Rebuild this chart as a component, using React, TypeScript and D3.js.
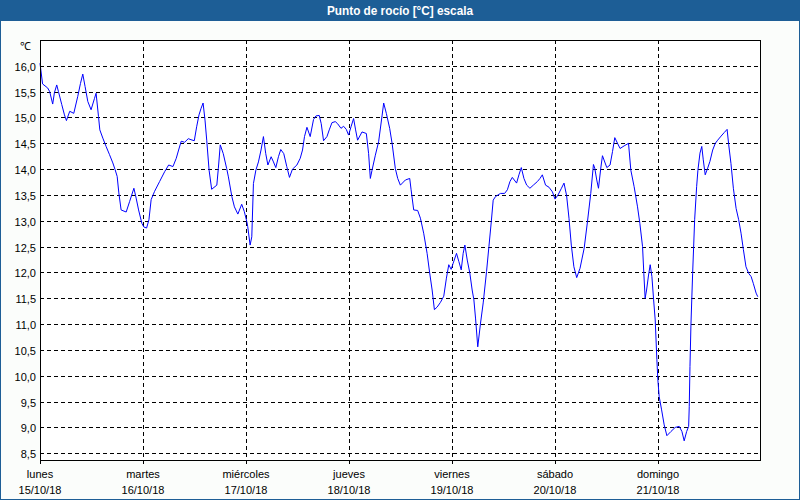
import React from "react";
import * as d3 from "d3";

const TITLE = "Punto de rocío [°C] escala";
const UNIT = "℃";
const DAY_NAMES = ["lunes", "martes", "miércoles", "jueves", "viernes", "sábado", "domingo"];
const DAY_DATES = ["15/10/18", "16/10/18", "17/10/18", "18/10/18", "19/10/18", "20/10/18", "21/10/18"];
const Y_TICKS = [8.5, 9.0, 9.5, 10.0, 10.5, 11.0, 11.5, 12.0, 12.5, 13.0, 13.5, 14.0, 14.5, 15.0, 15.5, 16.0];

// hours since 15/10/18 00:00
const HOURS = [
  0, 0.6, 1.8, 2.26, 2.96, 3.36, 3.9, 4.3, 5.07, 5.7, 6.16, 6.93, 7.87, 8.8, 9.43, 9.97, 10.5, 11.14, 11.9, 12.7,
  13.07, 13.63, 13.94, 14.64, 15.4, 16.2, 16.97, 17.5, 17.98, 18.37, 18.9, 20.08, 20.87, 21.88, 22.4, 22.97, 23.74, 24.2, 24.84, 25.38,
  25.9, 26.7, 27.87, 29.04, 29.98, 30.98, 31.75, 32.3, 32.9, 33.7, 34.55, 35.18, 35.95, 36.5, 37.05, 37.5, 38.0, 38.45, 38.85, 39.4,
  40.0, 41.2, 41.55, 42.0, 42.7, 43.5, 43.9, 44.7, 45.3, 46.1, 47.0, 47.6, 48.2, 48.4, 48.96, 49.35, 49.73, 50.3, 50.9, 51.5,
  52.06, 52.6, 53.1, 53.86, 54.4, 54.95, 55.56, 56.1, 56.8, 57.5, 58.13, 58.83, 59.86, 60.63, 61.17, 61.63, 62.2, 62.96, 63.73, 64.3,
  65.06, 65.53, 66.07, 66.86, 67.4, 68.03, 68.8, 69.34, 70.13, 70.74, 71.37, 71.9, 72.47, 73.07, 73.54, 74.0, 75.03, 76.04, 76.57, 76.97,
  77.37, 78.14, 78.9, 79.7, 80.08, 80.7, 81.48, 82.04, 82.8, 83.35, 83.97, 85.14, 86.15, 86.47, 87.08, 88.0, 88.64, 89.4, 90.2, 90.8,
  91.37, 91.9, 92.54, 93.3, 94.08, 94.7, 95.25, 95.8, 96.28, 97.05, 97.6, 98.15, 98.6, 99.0, 99.55, 100.15, 100.7, 101.1, 101.5, 102.0,
  102.65, 103.27, 104.05, 104.6, 105.15, 105.6, 106.15, 107.3, 108.26, 108.9, 109.5, 110.05, 111.05, 111.6, 112.15, 112.76, 113.4, 114.16, 114.95, 115.9,
  116.5, 117.05, 117.8, 118.6, 119.4, 120.0, 120.7, 121.5, 122.1, 122.7, 123.26, 123.8, 124.4, 125.06, 125.83, 126.8, 127.56, 128.33, 128.96, 129.26,
  129.73, 130.13, 130.67, 131.06, 132.07, 132.83, 133.4, 133.93, 134.57, 135.17, 136.1, 137.13, 137.67, 138.44, 139.23, 139.77, 140.4, 140.7, 141.0, 141.34,
  141.8, 142.18, 142.58, 142.98, 143.35, 143.74, 143.97, 144.27, 144.84, 145.44, 146.07, 147.0, 148.0, 148.95, 149.58, 150.1, 150.67, 151.14, 151.28, 151.45,
  151.68, 152.07, 152.54, 153.0, 153.3, 153.78, 154.2, 154.55, 155.0, 155.58, 156.1, 156.74, 157.35, 157.9, 158.7, 159.45, 160.1, 160.48, 161.0, 161.56,
  162.2, 162.8, 163.35, 163.9, 164.5, 165.15, 165.7, 166.2, 166.86, 167.25,
];

const DEW_POINT = [
  16.05, 15.65, 15.57, 15.5, 15.26, 15.48, 15.63, 15.5, 15.25, 15.05, 14.94, 15.12, 15.08, 15.41, 15.66, 15.84, 15.6, 15.31, 15.15, 15.37,
  15.47, 15.02, 14.76, 14.6, 14.44, 14.28, 14.12, 13.99, 13.86, 13.54, 13.21, 13.17, 13.37, 13.63, 13.44, 13.21, 12.95, 12.88, 12.86, 13.02,
  13.41, 13.57, 13.76, 13.95, 14.08, 14.05, 14.21, 14.37, 14.54, 14.52, 14.59, 14.57, 14.55, 14.82, 15.05, 15.17, 15.28, 14.95, 14.56, 13.98,
  13.61, 13.69, 14.01, 14.47, 14.3, 14.01, 13.85, 13.47, 13.27, 13.13, 13.32, 13.18, 12.98, 12.89, 12.53, 12.69, 13.72, 13.98, 14.14, 14.37,
  14.63, 14.3, 14.08, 14.24, 14.14, 14.03, 14.24, 14.38, 14.3, 14.05, 13.84, 14.0, 14.08, 14.21, 14.37, 14.63, 14.81, 14.63, 14.96, 15.03,
  15.04, 14.88, 14.55, 14.63, 14.76, 14.9, 14.92, 14.88, 14.79, 14.83, 14.77, 14.66, 14.82, 14.98, 14.76, 14.56, 14.72, 14.69, 14.3, 13.82,
  13.98, 14.27, 14.53, 15.03, 15.28, 15.08, 14.79, 14.5, 14.01, 13.82, 13.69, 13.79, 13.82, 13.6, 13.21, 13.2, 13.05, 12.76, 12.37, 11.99,
  11.66, 11.28, 11.33, 11.42, 11.54, 11.89, 12.15, 12.06, 12.18, 12.37, 12.21, 12.05, 12.37, 12.53, 12.24, 11.99, 11.66, 11.47, 11.1, 10.56,
  11.02, 11.41, 12.02, 12.5, 12.98, 13.4, 13.47, 13.53, 13.53, 13.6, 13.76, 13.84, 13.73, 13.89, 14.03, 13.82, 13.69, 13.63, 13.69, 13.76,
  13.82, 13.89, 13.69, 13.65, 13.56, 13.42, 13.5, 13.63, 13.73, 13.49, 13.05, 12.53, 12.11, 11.9, 12.08, 12.47, 12.98, 13.53, 14.09, 14.02,
  13.79, 13.63, 14.02, 14.26, 14.03, 14.08, 14.34, 14.61, 14.5, 14.4, 14.45, 14.5, 13.98, 13.66, 13.27, 12.95, 12.5, 11.98, 11.5, 11.66,
  11.95, 12.15, 11.92, 11.47, 11.08, 10.31, 9.92, 9.6, 9.34, 9.05, 8.84, 8.92, 9.0, 9.02, 8.92, 8.74, 8.92, 9.02, 9.4, 10.18,
  11.0, 11.98, 13.02, 13.66, 13.98, 14.31, 14.44, 14.18, 13.89, 14.02, 14.15, 14.37, 14.5, 14.56, 14.64, 14.71, 14.77, 14.47, 14.11, 13.63,
  13.24, 13.02, 12.76, 12.44, 12.11, 11.98, 11.92, 11.79, 11.6, 11.53,
];

const W = 800;
const H = 500;
const FONT = "'Liberation Sans', Arial, sans-serif";

export default function App() {
  const left = 40;
  const right = 761;
  const top = 40;
  const bottom = 461;
  const x = d3.scaleLinear().domain([0, 168]).range([left, right]);
  const y = d3.scaleLinear().domain([8.35, 16.5]).range([bottom, top]);

  const data = HOURS.map((h, i) => [h, DEW_POINT[i]] as [number, number]);
  const line = d3
    .line<[number, number]>()
    .x((d) => x(d[0]))
    .y((d) => y(d[1]));

  const crisp = (v: number) => Math.round(v) + 0.5;
  const fmt = (v: number) => v.toFixed(1).replace(".", ",");

  return (
    <svg
      width={W}
      height={H}
      style={{ position: "absolute", left: 0, top: 0, display: "block" }}
      xmlns="http://www.w3.org/2000/svg"
    >
      <rect x={0} y={0} width={W} height={H} fill="#fbfdfb" />
      <rect x={0.5} y={0.5} width={W - 1} height={H - 1} fill="none" stroke="#1d5e96" strokeWidth={1} />
      <rect x={0} y={0} width={W} height={21} fill="#1d5e96" />
      <text
        x={W / 2}
        y={15}
        textAnchor="middle"
        fill="#ffffff"
        fontFamily={FONT}
        fontWeight="bold"
        fontSize={12}
        textLength={146}
        lengthAdjust="spacingAndGlyphs"
      >
        {TITLE}
      </text>

      <rect x={left} y={top} width={right - left} height={bottom - top} fill="#ffffff" />

      {/* horizontal grid */}
      {Y_TICKS.map((t) => (
        <line
          key={"gy" + t}
          x1={left}
          x2={right}
          y1={crisp(y(t))}
          y2={crisp(y(t))}
          stroke="#000"
          strokeWidth={1}
          strokeDasharray="4,3"
        />
      ))}
      {/* vertical grid */}
      {DAY_NAMES.map((_, i) =>
        i === 0 ? null : (
          <line
            key={"gx" + i}
            x1={crisp(x(i * 24))}
            x2={crisp(x(i * 24))}
            y1={top}
            y2={bottom}
            stroke="#000"
            strokeWidth={1}
            strokeDasharray="4,3"
          />
        )
      )}

      <path d={line(data) || ""} fill="none" stroke="#0000ff" strokeWidth={1} />

      {/* frame */}
      <rect x={left + 0.5} y={top + 0.5} width={right - left - 1} height={bottom - top - 1} fill="none" stroke="#000" strokeWidth={1} />

      {/* x ticks */}
      {DAY_NAMES.map((_, i) => (
        <line
          key={"tx" + i}
          x1={crisp(x(i * 24))}
          x2={crisp(x(i * 24))}
          y1={bottom}
          y2={bottom + 3}
          stroke="#000"
        />
      ))}

      {/* y labels */}
      {Y_TICKS.map((t) => (
        <text
          key={"ly" + t}
          x={36}
          y={crisp(y(t)) + 4}
          textAnchor="end"
          fontFamily={FONT}
          fontSize={11}
          fill="#000"
        >
          {fmt(t)}
        </text>
      ))}
      <text x={31} y={50} textAnchor="end" fontFamily={FONT} fontSize={11} fill="#000">
        {UNIT}
      </text>

      {/* x labels */}
      {DAY_NAMES.map((name, i) => (
        <g key={"lx" + i}>
          <text x={x(i * 24)} y={478} textAnchor="middle" fontFamily={FONT} fontSize={11} fill="#000">
            {name}
          </text>
          <text x={x(i * 24)} y={494} textAnchor="middle" fontFamily={FONT} fontSize={11} fill="#000">
            {DAY_DATES[i]}
          </text>
        </g>
      ))}
    </svg>
  );
}
